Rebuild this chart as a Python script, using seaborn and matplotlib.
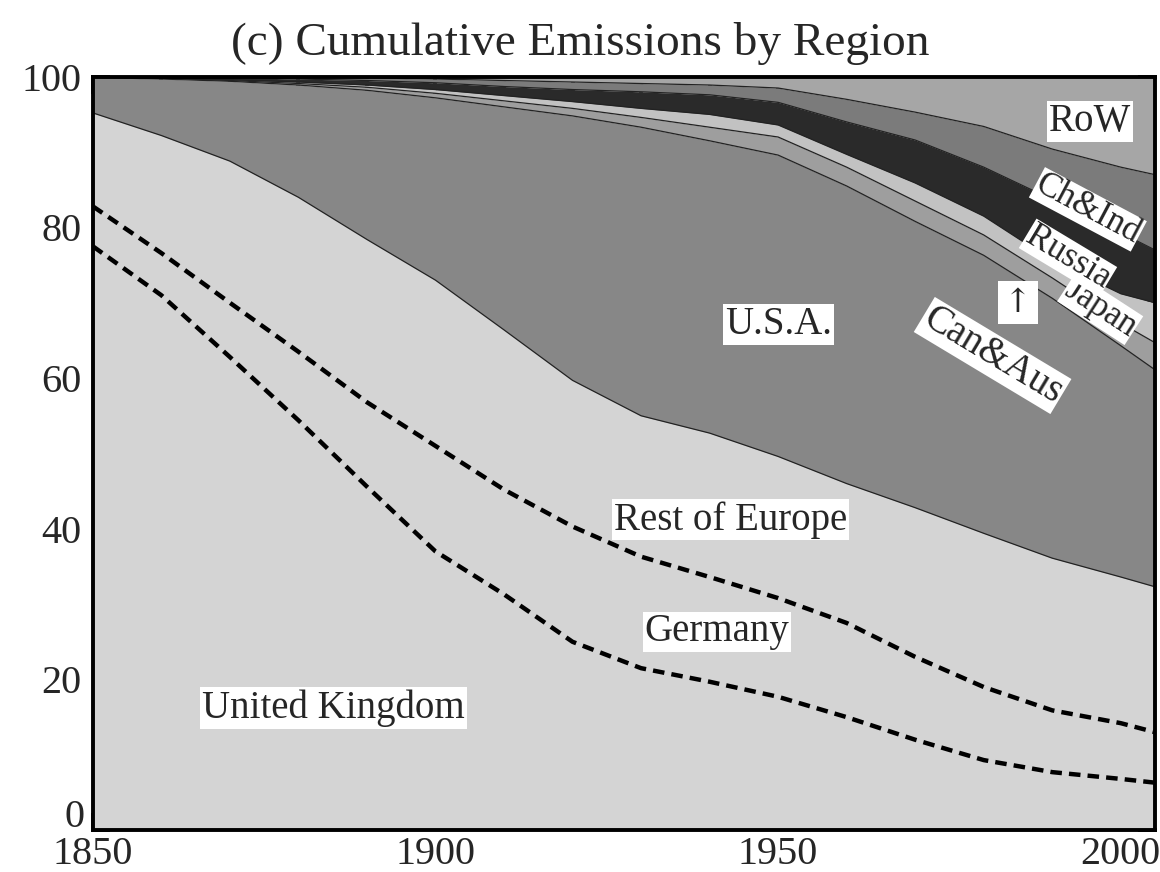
import numpy as np
import matplotlib
matplotlib.use("Agg")
import matplotlib.pyplot as plt
import matplotlib.transforms as mtransforms
import seaborn as sns

# Data (cumulative share %)
years = [1850, 1860, 1870, 1880, 1890, 1900, 1910, 1920, 1930, 1940,
         1950, 1960, 1970, 1980, 1990, 2000, 2005]
uk_top = [77.5, 71.0, 62.8, 54.4, 45.6, 37.0, 31.3, 25.0, 21.5, 19.7,
          17.7, 15.0, 12.0, 9.3, 7.7, 6.8, 6.3]
germany_top = [82.8, 76.6, 70.0, 63.5, 56.8, 51.0, 45.2, 40.3, 36.3, 33.6,
               30.8, 27.5, 23.0, 19.0, 15.9, 14.2, 13.0]
europe_top = [95.2, 92.2, 88.8, 84.0, 78.4, 73.0, 66.4, 59.7, 55.0, 52.7,
              49.6, 46.0, 42.8, 39.4, 36.1, 33.6, 32.3]
usa_top = [99.9, 99.7, 99.4, 98.9, 98.2, 97.2, 96.0, 94.8, 93.3, 91.5,
           89.6, 85.5, 80.8, 76.3, 70.6, 64.3, 61.1]
canaus_top = [99.95, 99.8, 99.5, 99.1, 98.6, 97.8, 96.8, 95.8, 94.6, 93.3,
              92.0, 88.0, 83.5, 79.0, 73.3, 67.3, 64.7]
japan_top = [100, 99.85, 99.6, 99.3, 98.9, 98.3, 97.5, 96.7, 95.8, 95.0,
             93.6, 89.7, 85.9, 81.5, 75.6, 71.2, 70.0]
russia_top = [100, 99.95, 99.9, 99.7, 99.5, 99.2, 98.7, 98.3, 98.0, 97.6,
              96.6, 94.0, 91.6, 88.0, 83.7, 79.3, 77.0]
chind_top = [100, 100, 100, 99.95, 99.85, 99.7, 99.5, 99.3, 99.1, 98.9,
             98.5, 97.0, 95.3, 93.4, 90.4, 88.0, 87.0]
row_top = [100] * len(years)

sns.set_style("ticks")
plt.rcParams['font.family'] = ['Liberation Serif', 'DejaVu Serif']

fig = plt.figure(figsize=(11.6, 8.72), dpi=100)
ax = fig.add_axes([0.080, 0.048, 0.9157, 0.864])

light = '#d4d4d4'
layers = [
    (np.zeros(len(years)), europe_top, light),
    (europe_top, usa_top, '#878787'),
    (usa_top, canaus_top, '#9e9e9e'),
    (canaus_top, japan_top, '#c2c2c2'),
    (japan_top, russia_top, '#2a2a2a'),
    (russia_top, chind_top, '#7b7b7b'),
    (chind_top, row_top, '#a6a6a6'),
]
for lo, hi, col in layers:
    ax.fill_between(years, lo, hi, color=col, linewidth=0)

# thin solid boundaries
for top in [europe_top, usa_top, canaus_top, japan_top, russia_top, chind_top]:
    sns.lineplot(x=years, y=top, ax=ax, color='#222222', linewidth=0.9)

# dashed boundaries inside Europe
for top in [uk_top, germany_top]:
    sns.lineplot(x=years, y=top, ax=ax, color='black', linewidth=3.2,
                 linestyle=(0, (2.6, 1.6)))

ax.set_xlim(1850, 2005)
ax.set_ylim(0, 100)
ax.set_xticks([1850, 1900, 1950, 2000])
ax.set_xticks(np.arange(1850, 2006, 10), minor=True)
ax.set_yticks([0, 20, 40, 60, 80, 100])
ax.set_yticks(np.arange(0, 101, 10), minor=True)
ax.tick_params(which='both', direction='in', top=True, right=True,
               width=2.8, length=12, labelsize=29, color='black')
ax.tick_params(axis='x', pad=4)
ax.tick_params(axis='y', pad=8)
for s in ax.spines.values():
    s.set_linewidth(2.8)
    s.set_color('black')

# lift the "0" label so it sits just above the 1850 label
zero_lbl = ax.get_yticklabels()[0]
zero_lbl.set_transform(zero_lbl.get_transform() +
                       mtransforms.ScaledTranslation(0.03, 0.17, fig.dpi_scale_trans))

fig.suptitle('(c) Cumulative Emissions by Region', fontsize=34, x=0.5, y=0.975)

box = dict(facecolor='white', edgecolor='none', pad=1.5)
fs = 28
ax.text(1885.1, 16.2, 'United Kingdom', fontsize=fs, ha='center', va='center', bbox=box)
ax.text(1941.1, 26.3, 'Germany', fontsize=fs, ha='center', va='center', bbox=box)
ax.text(1943.1, 41.2, 'Rest of Europe', fontsize=fs, ha='center', va='center', bbox=box)
ax.text(1950.1, 67.1, 'U.S.A.', fontsize=fs, ha='center', va='center', bbox=box)
ax.text(1995.5, 94.0, 'RoW', fontsize=fs, ha='center', va='center', bbox=box)

fr = 25
tight = dict(facecolor='white', edgecolor='none', pad=0.5)
ax.text(1995.2, 82.4, 'Ch&Ind', fontsize=fr, ha='center', va='center', rotation=-28,
        bbox=tight, zorder=5)
ax.text(1992.3, 76.0, 'Russia', fontsize=fr, ha='center', va='center', rotation=-31,
        bbox=tight, zorder=6)
ax.text(1997.0, 69.2, 'Japan', fontsize=fr, ha='center', va='center', rotation=-33,
        bbox=tight, zorder=5)
ax.text(1981.3, 63.0, 'Can&Aus', fontsize=fs, ha='center', va='center', rotation=-31,
        bbox=box, zorder=5)
ax.text(1985.0, 70.0, '↑', fontsize=24, ha='center', va='center',
        family=['DejaVu Serif'], bbox=dict(facecolor='white', edgecolor='none', pad=4),
        zorder=5)

fig.savefig('out.png', dpi=100)
